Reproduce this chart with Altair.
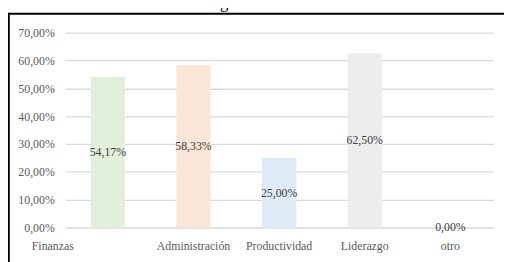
import altair as alt
import pandas as pd

categories = ["Finanzas", "Administración", "Productividad", "Liderazgo", "otro"]
values = [54.17, 58.33, 25.00, 62.50, 0.00]
y_ticks = [0, 10, 20, 30, 40, 50, 60, 70]
title_text = ["agricultores\u201d."]

palette = ["#e2efda", "#fbe5d6", "#deebf7", "#ededed", "#d9d9d9"]
FONT = "Liberation Serif"

df = pd.DataFrame({"cat": categories, "v": values})

base = alt.Chart(df).transform_calculate(
    mid="datum.v / 2",
    lab="replace(format(datum.v, '.2f'), '.', ',') + '%'",
)

x_axis = alt.Axis(
    title=None,
    domain=False,
    ticks=False,
    grid=False,
    labelAngle=0,
    labelPadding=13,
    labelOffset={"condition": {"test": "datum.value === 'Finanzas'", "value": -56}, "value": 0},
)
y_axis = alt.Axis(
    title=None,
    values=y_ticks,
    labelOverlap=False,
    domain=False,
    ticks=False,
    grid=True,
    gridColor="#d9d9d9",
    gridWidth=1.3,
    labelPadding=11,
    labelExpr="replace(format(datum.value, '.2f'), '.', ',') + '%'",
)
x_scale = alt.Scale(paddingInner=0.6, paddingOuter=0.3)
y_scale = alt.Scale(domain=[0, 70])

bars = base.mark_bar().encode(
    x=alt.X("cat:N", sort=categories, scale=x_scale, axis=x_axis),
    y=alt.Y("v:Q", scale=y_scale, axis=y_axis),
    color=alt.Color("cat:N", scale=alt.Scale(domain=categories, range=palette), legend=None),
)

labels = base.mark_text(font=FONT, fontSize=12, color="#404040", baseline="middle").encode(
    x=alt.X("cat:N", sort=categories, scale=x_scale, axis=x_axis),
    y=alt.Y("mid:Q", scale=y_scale, axis=y_axis),
    text="lab:N",
)

title = alt.Chart(pd.DataFrame({"t": title_text})).mark_text(
    font=FONT, fontSize=17, color="black", baseline="alphabetic", align="center"
).encode(text="t:N", x=alt.value(196), y=alt.value(-25))

top_border = alt.Chart(pd.DataFrame({"a": [0]})).mark_rule(color="black", strokeWidth=1.8).encode(
    x=alt.value(-58), x2=alt.value(460), y=alt.value(-19.2)
)
left_border = alt.Chart(pd.DataFrame({"a": [0]})).mark_rule(color="black", strokeWidth=1.8).encode(
    x=alt.value(-57.1), y=alt.value(-19.2), y2=alt.value(260)
)

chart = alt.layer(bars, labels, title, top_border, left_border).properties(
    width=435,
    height=198,
    autosize=alt.AutoSizeParams(type="none"),
    padding={"left": 58, "top": 23, "right": 11, "bottom": 33},
).configure_view(stroke=None).configure_axis(
    labelFont=FONT, labelFontSize=12, labelColor="#595959"
).configure_text(font=FONT)

chart.save("out.html", embed_options={"renderer": "svg", "actions": False})
